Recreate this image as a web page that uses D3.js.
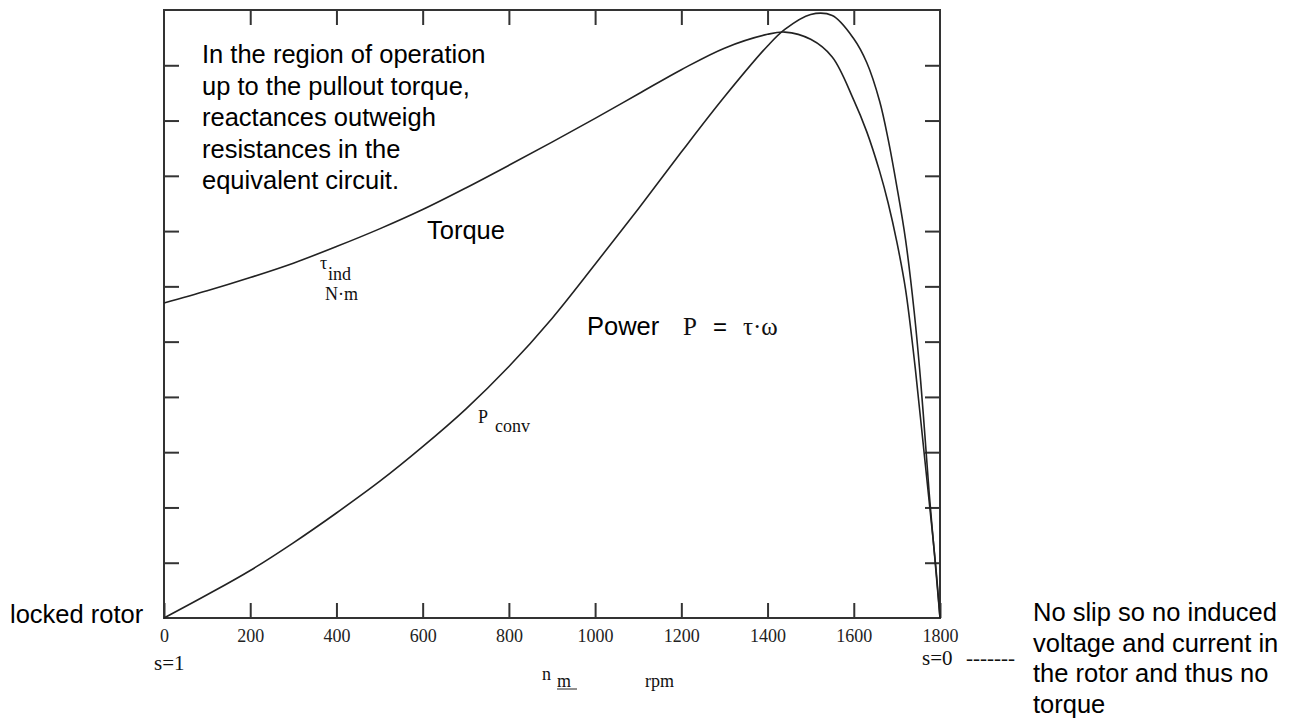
<!DOCTYPE html>
<html>
<head>
<meta charset="utf-8">
<script src="https://cdn.jsdelivr.net/npm/d3@7"></script>
<style>
  html, body { margin: 0; padding: 0; background: #fff; }
  svg { display: block; }
  .sans { font-family: "Liberation Sans", Arial, Helvetica, sans-serif; fill: #000; }
  .serif { font-family: "Liberation Serif", "Times New Roman", serif; fill: #111; }
</style>
</head>
<body>
<svg id="chart" width="1294" height="725"></svg>
<script>
// ---- data ----
const speedRpm = [0, 100, 200, 300, 400, 500, 600, 700, 800, 900, 1000, 1100, 1200, 1300, 1400,
                  1440, 1500, 1550, 1600, 1630, 1660, 1680, 1700, 1720, 1740, 1755, 1765, 1775, 1790, 1800];
const torqueInd = [5.70, 5.92, 6.16, 6.42, 6.72, 7.04, 7.39, 7.78, 8.19, 8.61, 9.04, 9.48, 9.92, 10.31, 10.56,
                   10.60, 10.47, 10.15, 9.37, 8.80, 8.08, 7.50, 6.80, 5.95, 4.70, 3.60, 2.85, 2.10, 0.95, 0];
const powerConv = [0, 0.42, 0.86, 1.36, 1.90, 2.47, 3.10, 3.78, 4.55, 5.42, 6.40, 7.40, 8.43, 9.43, 10.35,
                   10.65, 10.92, 10.90, 10.48, 10.05, 9.35, 8.65, 7.80, 6.85, 5.55, 4.30, 3.30, 2.25, 0.90, 0];
const xTickValues = [0, 200, 400, 600, 800, 1000, 1200, 1400, 1600, 1800];
const yTickValues = [0, 1, 2, 3, 4, 5, 6, 7, 8, 9, 10, 11];

(function () {
// ---- layout ----
const svg = d3.select("#chart");
const plotL = 164, plotR = 940, plotT = 10, plotB = 618;
const x = d3.scaleLinear().domain([0, 1800]).range([plotL, plotR]);
const y = d3.scaleLinear().domain([0, 11]).range([plotB, plotT]);
const tickLen = 15;
const axisColor = "#333";

function styleAxis(g) {
  g.select(".domain").remove();
  g.selectAll(".tick line").attr("stroke", axisColor).attr("stroke-width", 2);
}

// bottom axis (ticks point inward, with labels)
svg.append("g")
  .attr("transform", `translate(0,${plotB})`)
  .call(d3.axisBottom(x).tickValues(xTickValues).tickSizeInner(-tickLen).tickSizeOuter(0).tickPadding(11).tickFormat(d3.format("d")))
  .call(styleAxis)
  .call(g => g.selectAll(".tick text")
    .attr("font-family", "'Liberation Serif', 'Times New Roman', serif")
    .attr("font-size", 18).attr("fill", "#222"));

// top axis
svg.append("g")
  .attr("transform", `translate(0,${plotT})`)
  .call(d3.axisTop(x).tickValues(xTickValues.slice(1, -1)).tickSizeInner(-tickLen).tickSizeOuter(0).tickFormat(""))
  .call(styleAxis);

// left axis
svg.append("g")
  .attr("transform", `translate(${plotL},0)`)
  .call(d3.axisLeft(y).tickValues(yTickValues.slice(1, -1)).tickSizeInner(-tickLen).tickSizeOuter(0).tickFormat(""))
  .call(styleAxis);

// right axis
svg.append("g")
  .attr("transform", `translate(${plotR},0)`)
  .call(d3.axisRight(y).tickValues(yTickValues.slice(1, -1)).tickSizeInner(-tickLen).tickSizeOuter(0).tickFormat(""))
  .call(styleAxis);

// frame
svg.append("rect")
  .attr("x", x(0)).attr("y", y(11))
  .attr("width", x(1800) - x(0)).attr("height", y(0) - y(11))
  .attr("fill", "none").attr("stroke", axisColor).attr("stroke-width", 2);

// curves
const curveLine = d3.line()
  .x((d, i) => x(speedRpm[i]))
  .y(d => y(d))
  .curve(d3.curveCatmullRom.alpha(0.5));

svg.append("path")
  .datum(torqueInd)
  .attr("d", curveLine)
  .attr("fill", "none").attr("stroke", "#222").attr("stroke-width", 1.6);

svg.append("path")
  .datum(powerConv)
  .attr("d", curveLine)
  .attr("fill", "none").attr("stroke", "#222").attr("stroke-width", 1.6);

// ---- annotations ----
const noteLines = ["In the region of operation", "up to the pullout torque,", "reactances outweigh",
                   "resistances in the", "equivalent circuit."];
svg.append("text").attr("class", "sans").attr("font-size", 25.5)
  .selectAll("tspan").data(noteLines).join("tspan")
  .attr("x", 202).attr("y", (d, i) => 63 + i * 31.5).text(d => d);

svg.append("text").attr("class", "sans").attr("font-size", 25.5)
  .attr("x", 427).attr("y", 239).text("Torque");

svg.append("text").attr("class", "sans").attr("font-size", 25.5)
  .attr("x", 10).attr("y", 623).text("locked rotor");

const rightLines = ["No slip so no induced", "voltage and current in", "the rotor and thus no", "torque"];
svg.append("text").attr("class", "sans").attr("font-size", 25.5)
  .selectAll("tspan").data(rightLines).join("tspan")
  .attr("x", 1033).attr("y", (d, i) => 621 + i * 30.7).text(d => d);

svg.append("text").attr("class", "sans").attr("font-size", 25.5)
  .attr("x", 587).attr("y", 335).text("Power");
svg.append("text").attr("class", "serif").attr("font-size", 25)
  .attr("x", 683).attr("y", 335).text("P");
svg.append("text").attr("class", "sans").attr("font-size", 24)
  .attr("x", 713).attr("y", 335).text("=");
svg.append("text").attr("class", "serif").attr("font-size", 25)
  .attr("x", 743).attr("y", 335).text("τ·ω");

// y label τ ind / N·m
svg.append("text").attr("class", "serif").attr("font-size", 18)
  .attr("x", 320).attr("y", 269).text("τ");
svg.append("text").attr("class", "serif").attr("font-size", 18)
  .attr("x", 328).attr("y", 280).text("ind");
svg.append("text").attr("class", "serif").attr("font-size", 18)
  .attr("x", 325).attr("y", 300).text("N·m");

// P conv
svg.append("text").attr("class", "serif").attr("font-size", 18)
  .attr("x", 478).attr("y", 423).text("P");
svg.append("text").attr("class", "serif").attr("font-size", 18)
  .attr("x", 495).attr("y", 432).text("conv");

// x label n m rpm
svg.append("text").attr("class", "serif").attr("font-size", 18)
  .attr("x", 542).attr("y", 680).text("n");
svg.append("text").attr("class", "serif").attr("font-size", 18)
  .attr("x", 557).attr("y", 687).text("m");
svg.append("line").attr("x1", 557).attr("x2", 577).attr("y1", 689).attr("y2", 689)
  .attr("stroke", "#222").attr("stroke-width", 1);
svg.append("text").attr("class", "serif").attr("font-size", 18)
  .attr("x", 645).attr("y", 687).text("rpm");

// slip labels
svg.append("text").attr("class", "serif").attr("font-size", 21)
  .attr("x", 154).attr("y", 670).text("s=1");
svg.append("text").attr("class", "serif").attr("font-size", 21)
  .attr("x", 922).attr("y", 665).text("s=0");
svg.append("text").attr("class", "serif").attr("font-size", 21)
  .attr("x", 966).attr("y", 665).text("-------");
})();
</script>
</body>
</html>
